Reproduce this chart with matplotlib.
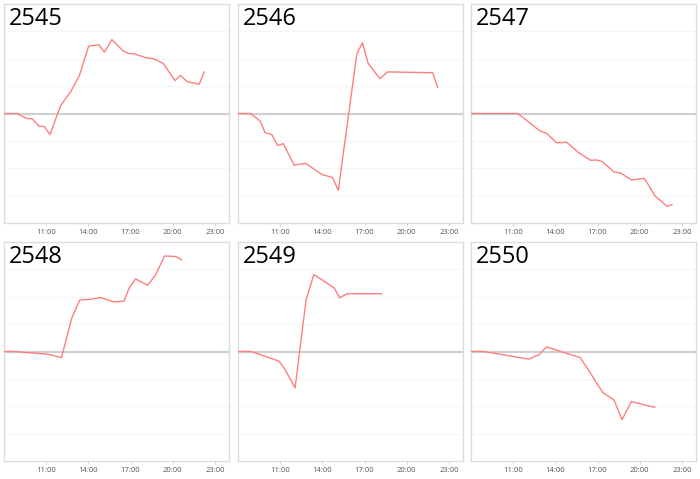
import numpy as np
import matplotlib
matplotlib.use("Agg")
import matplotlib.pyplot as plt

# hours (decimal) and values
titles = ["2545", "2546", "2547", "2548", "2549", "2550"]

x_2545 = [8.0, 8.94, 9.6, 10.0, 10.5, 10.85, 11.27, 12.02, 12.78, 13.36, 14.02, 14.75, 15.15,
          15.67, 16.47, 16.87, 17.25, 18.07, 18.66, 19.32, 20.16, 20.54, 21.04, 21.88, 22.24]
y_2545 = [0, 0, -0.18, -0.19, -0.47, -0.47, -0.77, 0.28, 0.83, 1.39, 2.46, 2.51, 2.24,
          2.70, 2.29, 2.19, 2.18, 2.04, 2.0, 1.83, 1.20, 1.39, 1.16, 1.07, 1.52]

x_2546 = [8.0, 8.9, 9.58, 9.93, 10.4, 10.82, 11.22, 12.0, 12.8, 13.98, 14.73, 15.13,
          16.45, 16.85, 17.25, 18.09, 18.64, 21.84, 22.2]
y_2546 = [0, 0, -0.28, -0.70, -0.77, -1.17, -1.10, -1.89, -1.82, -2.23, -2.34, -2.81,
          2.18, 2.58, 1.84, 1.27, 1.52, 1.49, 0.96]

x_2547 = [8.0, 11.33, 12.11, 12.87, 13.39, 14.09, 14.8, 15.63, 16.5, 16.95, 17.31, 18.16,
          18.7, 19.41, 20.31, 20.6, 21.08, 21.95, 22.3]
y_2547 = [0, 0, -0.31, -0.63, -0.73, -1.07, -1.05, -1.42, -1.71, -1.70, -1.75, -2.13,
          -2.19, -2.43, -2.37, -2.59, -3.01, -3.39, -3.33]

x_2548 = [8.0, 8.75, 11.12, 12.09, 12.82, 13.39, 14.19, 14.86, 15.8, 16.53, 16.94, 17.36,
          18.21, 18.8, 19.41, 20.22, 20.64]
y_2548 = [0, 0, -0.10, -0.22, 1.22, 1.88, 1.91, 1.97, 1.81, 1.84, 2.36, 2.65,
          2.42, 2.81, 3.49, 3.47, 3.35]

x_2549 = [8.0, 8.94, 10.9, 11.3, 12.06, 12.84, 13.39, 14.83, 15.23, 15.75, 18.19]
y_2549 = [0, 0, -0.35, -0.62, -1.33, 1.88, 2.81, 2.33, 1.96, 2.11, 2.11]

x_2550 = [8.0, 8.92, 12.11, 12.82, 13.38, 14.37, 15.76, 16.5, 16.87, 17.37, 18.17, 18.74,
          19.4, 21.07]
y_2550 = [0, 0, -0.28, -0.12, 0.17, 0, -0.22, -0.79, -1.1, -1.5, -1.77, -2.49,
          -1.83, -2.04]

series = [(x_2545, y_2545), (x_2546, y_2546), (x_2547, y_2547),
          (x_2548, y_2548), (x_2549, y_2549), (x_2550, y_2550)]

tick_hours = [11, 14, 17, 20, 23]
tick_labels = ["11:00", "14:00", "17:00", "20:00", "23:00"]

fig = plt.figure(figsize=(7, 4.79), dpi=100)

W, H = 700, 479
lefts = [4, 238, 471]
tops = [4, 242]
pw, ph = 225, 219

for i, (xs, ys) in enumerate(series):
    r, c = divmod(i, 3)
    ax = fig.add_axes([lefts[c] / W, 1 - (tops[r] + ph) / H, pw / W, ph / H])
    ax.plot(xs, ys, color='#ff7f7f', linewidth=1.0, zorder=3)
    ax.axhline(0, color='#cfcfcf', linewidth=1.5, zorder=2)
    for g in [-3, -2, -1, 1, 2, 3]:
        ax.axhline(g, color='#f6f6f6', linewidth=0.8, zorder=1)
    ax.set_xlim(8, 24)
    ax.set_ylim(-4, 4)
    ax.set_yticks([])
    ax.set_xticks(tick_hours)
    ax.set_xticklabels(tick_labels, fontsize=5.5, color='#555555', family='Open Sans')
    ax.tick_params(axis='x', length=2, width=0.6, color='#d0d0d0', pad=2)
    for s in ax.spines.values():
        s.set_color('#dcdcdc')
        s.set_linewidth(1.0)
    ax.text(0.02, 0.985, titles[i], transform=ax.transAxes, ha='left', va='top',
            fontsize=17, color='black', family='Open Sans')

plt.savefig("out.png", dpi=100)
